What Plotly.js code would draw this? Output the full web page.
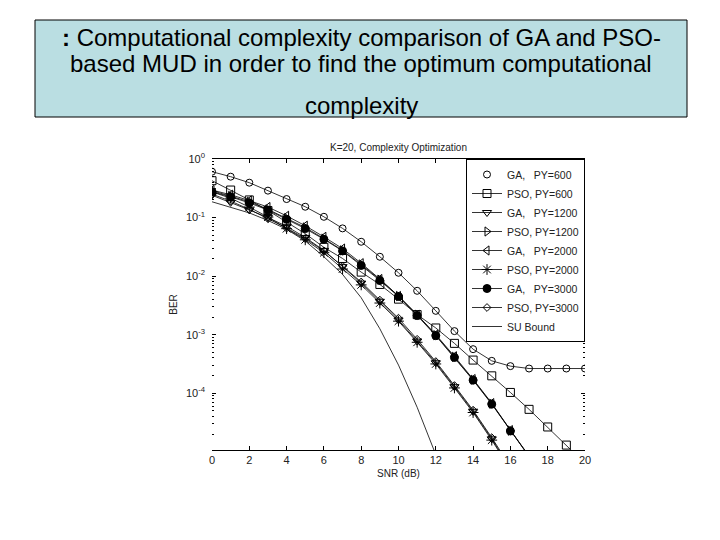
<!DOCTYPE html>
<html><head><meta charset="utf-8">
<script src="https://cdn.plot.ly/plotly-3.0.1.min.js"></script>
<style>html,body{margin:0;padding:0;background:#fff}#chart{width:720px;height:540px}</style>
</head><body><div id="chart"></div>
<script>
// SNR (dB) axis values
const snr = [0,1,2,3,4,5,6,7,8,9,10,11,12,13,14,15,16,17,18,19,20];

// BER values
const gaPY600   = [0.607,0.499,0.394,0.288,0.207,0.153,0.103,0.0653,0.0386,0.0214,0.0114,0.00561,0.00255,0.00115,5.65e-4,3.57e-4,2.90e-4,2.64e-4,2.64e-4,2.64e-4,2.64e-4];
const psoPY600  = [0.426,0.295,0.200,0.132,0.085,0.053,0.031,0.020,0.0117,0.0072,0.00404,0.0022,0.0013,7.1e-4,3.68e-4,1.98e-4,1.03e-4,5.3e-5,2.65e-5,1.3e-5,6.3e-6];
const gaPY1200  = [0.240,0.182,0.135,0.100,0.0708,0.0457,0.0275,0.0145,0.00759,0.00372,0.00178,7.76e-4,3.31e-4,1.29e-4,4.9e-5,1.66e-5,5.2e-6];
const psoPY1200 = [0.288,0.234,0.186,0.138,0.0977,0.0676,0.0437,0.0275,0.0158,0.00871,0.00457,0.00219,9.8e-4,4.17e-4,1.70e-4,6.6e-5,2.29e-5,8.3e-6];
const gaPY2000  = [0.295,0.245,0.195,0.151,0.107,0.0724,0.0468,0.0295,0.0166,0.00891,0.00457,0.00219,1.0e-3,4.27e-4,1.74e-4,6.76e-5,2.34e-5,8.5e-6];
const psoPY2000 = [0.275,0.214,0.151,0.102,0.0646,0.0417,0.0251,0.0132,0.00708,0.00347,0.0017,7.41e-4,3.16e-4,1.23e-4,4.68e-5,1.58e-5,5.0e-6];
const gaPY3000  = [0.275,0.226,0.178,0.134,0.0935,0.0647,0.0426,0.0269,0.0152,0.00843,0.00448,0.00212,9.6e-4,4.08e-4,1.67e-4,6.5e-5,2.26e-5,8.3e-6];
const psoPY3000 = [0.251,0.191,0.138,0.0955,0.0661,0.0437,0.0269,0.0148,0.00794,0.00389,0.00191,8.32e-4,3.47e-4,1.35e-4,5.13e-5,1.74e-5,5.6e-6];
const suBound   = [0.186,0.151,0.120,0.0891,0.0631,0.0398,0.0214,0.0107,0.00427,0.00126,3.02e-4,5.75e-5,8.9e-6];

const seriesNames = ['GA,\u00a0\u00a0 PY=600','PSO, PY=600','GA,\u00a0\u00a0 PY=1200','PSO, PY=1200','GA,\u00a0\u00a0 PY=2000','PSO, PY=2000','GA,\u00a0\u00a0 PY=3000','PSO, PY=3000','SU Bound'];

const yTickVals = [1,0.1,0.01,0.001,0.0001];
const yTickText = ['10<sup>0</sup>','10<sup>-1</sup>','10<sup>-2</sup>','10<sup>-3</sup>','10<sup>-4</sup>'];
const xTickVals = [0,2,4,6,8,10,12,14,16,18,20];

const minorVals = [];
for (let d = -5; d <= -1; d++) for (let m = 2; m <= 9; m++) minorVals.push(m * Math.pow(10, d));

function tr(y, name, symbol, size, opts) {
  return Object.assign({
    x: snr.slice(0, y.length), y: y, name: name, type: 'scatter', mode: 'lines+markers',
    line: {color: '#000', width: 0.8},
    marker: {symbol: symbol, size: size, color: '#000', line: {color: '#000', width: 1}},
    cliponaxis: true
  }, opts || {});
}

const traces = [
  // legend entry for first series shows marker only
  {x: [null], y: [null], name: seriesNames[0], type: 'scatter', mode: 'markers',
   marker: {symbol: 'circle-open', size: 7, color: '#000', line: {color: '#000', width: 1}}},
  tr(gaPY600, seriesNames[0], 'circle-open', 7, {showlegend: false}),
  tr(psoPY600, seriesNames[1], 'square-open', 8),
  tr(gaPY1200, seriesNames[2], 'triangle-down-open', 8),
  tr(psoPY1200, seriesNames[3], 'triangle-right-open', 8),
  tr(gaPY2000, seriesNames[4], 'triangle-left-open', 8),
  tr(psoPY2000, seriesNames[5], 'asterisk-open', 9),
  tr(gaPY3000, seriesNames[6], 'circle', 8),
  tr(psoPY3000, seriesNames[7], 'diamond-open', 6),
  {x: snr.slice(0, suBound.length), y: suBound, name: seriesNames[8], type: 'scatter', mode: 'lines',
   line: {color: '#000', width: 0.8}}
];

// plot area in pixels: left 212, right 585, top 159, bottom 450
const L = 212, R = 585, T = 159, B = 450;
const px = v => (v - L) / (R - L);
const py = v => (B - v) / (B - T);

const FAM = 'Liberation Sans, Arial, sans-serif';
const axFont = {family: FAM, size: 10, color: '#222'};

const layout = {
  width: 720, height: 540,
  margin: {l: L, r: 720 - R, t: T, b: 540 - B, pad: 0},
  paper_bgcolor: '#fff', plot_bgcolor: '#fff',
  showlegend: true,
  font: axFont,
  title: {text: 'K=20, Complexity Optimization', x: 0.5, xref: 'paper', xanchor: 'center',
          y: 1 - 147 / 540, yanchor: 'middle', font: {family: FAM, size: 10, color: '#222'}},
  xaxis: {range: [0, 20], tickvals: xTickVals, ticks: 'inside', ticklen: 4, tickcolor: '#000',
          showline: true, linecolor: '#000', linewidth: 1, mirror: 'ticks', showgrid: false, zeroline: false,
          tickfont: {family: FAM, size: 11, color: '#222'},
          title: {text: 'SNR (dB)', standoff: 4, font: {family: FAM, size: 10, color: '#222'}}},
  yaxis: {type: 'log', range: [-4.97, 0], tickmode: 'array', tickvals: yTickVals, ticktext: yTickText,
          ticks: 'inside', ticklen: 4, tickcolor: '#000', showline: false, mirror: 'ticks',
          showgrid: false, zeroline: false, ticklabelstandoff: 6,
          minor: {tickmode: 'array', tickvals: minorVals, ticks: 'inside', ticklen: 2, tickcolor: '#000', showgrid: false},
          tickfont: {family: FAM, size: 11, color: '#222'},
          title: {text: 'BER', standoff: 6, font: {family: FAM, size: 10, color: '#222'}}},
  legend: {x: 1, xanchor: 'right', y: 1, yanchor: 'top', bgcolor: '#fff', bordercolor: '#000', borderwidth: 1,
           font: {family: FAM, size: 10.5, color: '#222'}, tracegroupgap: 0,
           itemwidth: 30},
  shapes: [
    {type: 'rect', xref: 'paper', yref: 'paper', x0: px(35), x1: px(687), y0: py(117), y1: py(20),
     fillcolor: '#badee2', line: {color: '#000', width: 1}, layer: 'below'}
  ],
  annotations: [
    {xref: 'paper', yref: 'paper', x: px(361), y: py(38), xanchor: 'center', yanchor: 'middle', showarrow: false,
     text: '<b>:</b> Computational complexity comparison of GA and PSO-',
     font: {family: FAM, size: 24, color: '#000'}},
    {xref: 'paper', yref: 'paper', x: px(361), y: py(63), xanchor: 'center', yanchor: 'middle', showarrow: false,
     text: 'based MUD in order to find the optimum computational',
     font: {family: FAM, size: 24, color: '#000'}},
    {xref: 'paper', yref: 'paper', x: px(361), y: py(105), xanchor: 'center', yanchor: 'middle', showarrow: false,
     text: 'complexity',
     font: {family: FAM, size: 24, color: '#000'}}
  ]
};

Plotly.newPlot('chart', traces, layout, {staticPlot: true, displayModeBar: false});
</script>
</body></html>
